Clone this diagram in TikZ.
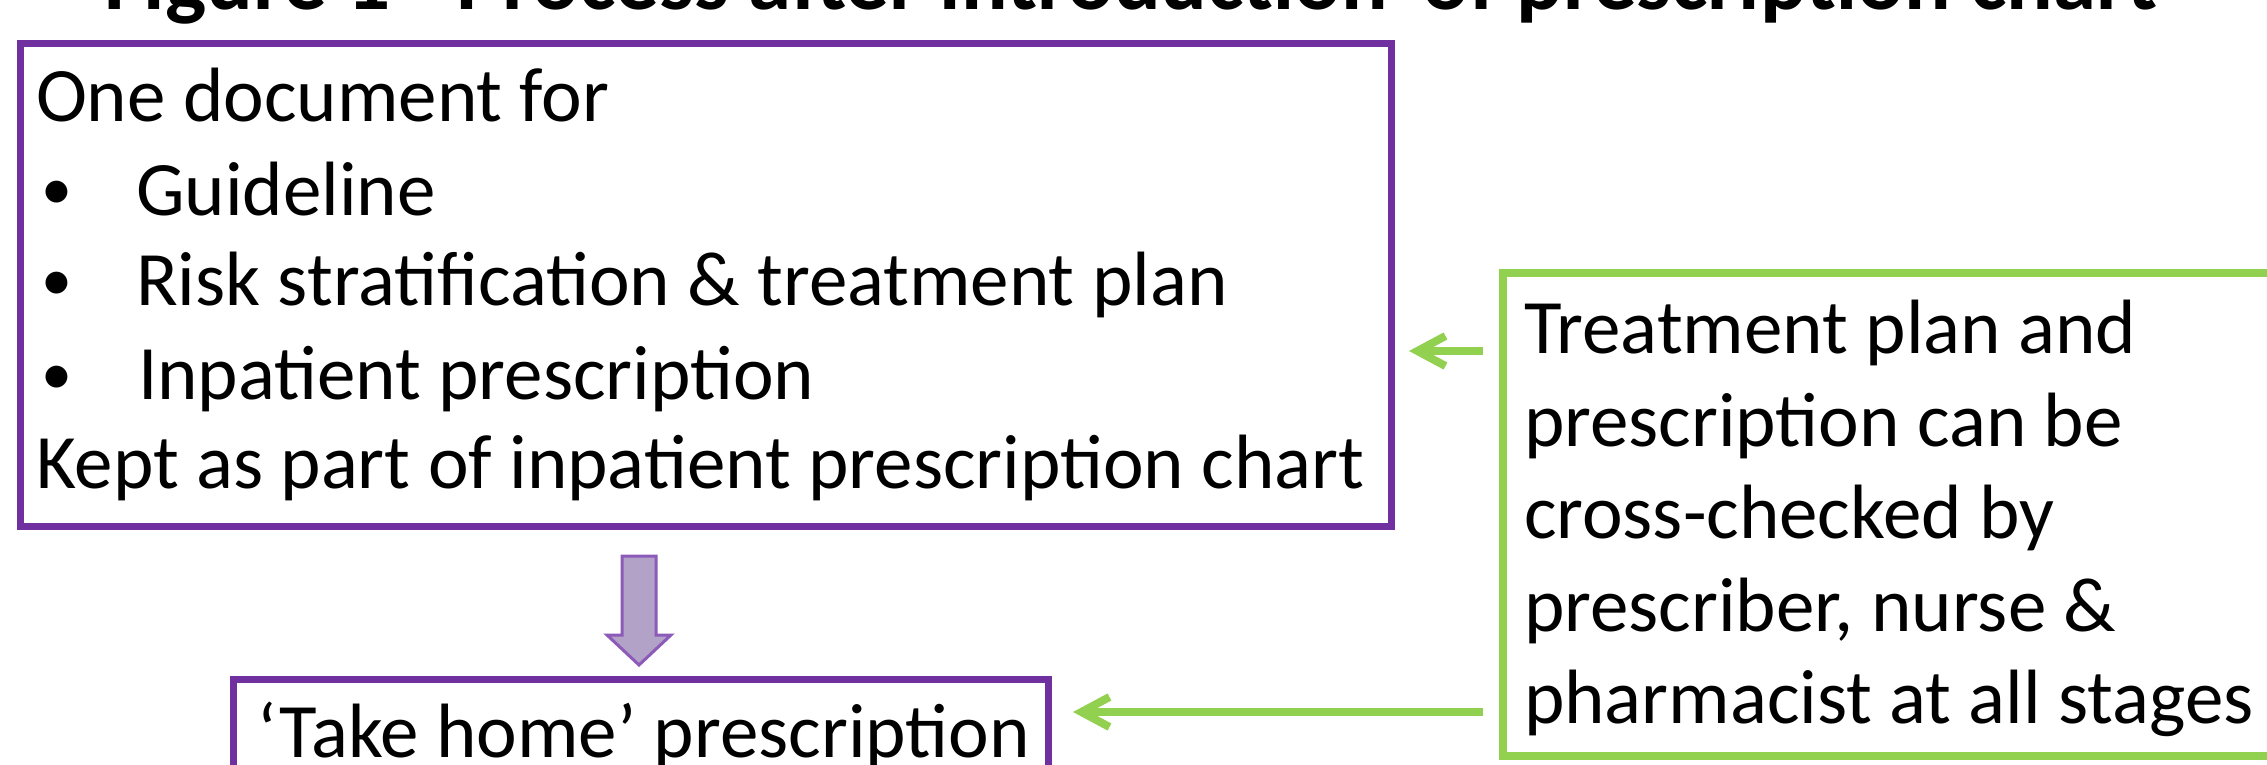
\documentclass[tikz,border=0pt]{standalone}
\usepackage{fontspec}
\setmainfont{Carlito}
\usetikzlibrary{arrows.meta,calc}
\definecolor{boxpurple}{HTML}{7030A0}
\definecolor{boxgreen}{HTML}{92D050}
\definecolor{arrowfill}{HTML}{B3A2C7}
\definecolor{arrowline}{HTML}{8C5AB8}
\begin{document}
\begin{tikzpicture}[x=0.5pt,y=-0.5pt,
  txt/.style={anchor=base west, inner sep=0pt, outer sep=0pt, font=\fontsize{38.5}{46}\selectfont},
  bul/.style={anchor=base west, inner sep=0pt, outer sep=0pt, font=\fontsize{31}{36}\selectfont},
  ttl/.style={anchor=base west, inner sep=0pt, outer sep=0pt, font=\fontsize{43.5}{50}\selectfont\bfseries},
  pbox/.style={draw=boxpurple, line width=3.5pt, rectangle, inner sep=0pt, outer sep=0pt},
  gbox/.style={draw=boxgreen, line width=4pt, rectangle, inner sep=0pt, outer sep=0pt},
  garrow/.style={draw=boxgreen, line width=4pt, -{Straight Barb[length=14pt,width=15pt]}},
  blockarrow/.style={draw=arrowline, fill=arrowfill, line width=1.5pt, line join=miter},
]
\useasboundingbox (0,0) rectangle (2267,765);
\clip (0,0) rectangle (2267,765);
% boxes
\node[pbox, minimum width=685.5pt, minimum height=241pt] (doc) at (705.5,285) {};
\node[pbox, minimum width=407.5pt, minimum height=80.5pt] (takehome) at (640.5,759.5) {};
\node[gbox, minimum width=408.5pt, minimum height=241.5pt] (check) at (1911.5,514.5) {};
% title
\node[ttl] (title) at (104,9.5) {Figure 1 - Process after introduction\, of prescription chart};
% texts of the first box
\node[txt] (l1) at (36,122) {One document for};
\node[bul] (b1) at (41,210) {•};
\node[txt] (l2) at (136,215) {Guideline};
\node[bul] (b2) at (41,300) {•};
\node[txt] (l3) at (136,305) {Risk stratification \& treatment plan};
\node[bul] (b3) at (41,394) {•};
\node[txt] (l4) at (138,399) {Inpatient prescription};
\node[txt] (l5) at (36,488) {Kept as part of inpatient prescription chart};
% take home text
\node[txt] (th) at (257,757) {‘Take home’ prescription};
% check text
\node[txt] (c1) at (1524,353) {Treatment plan and};
\node[txt] (c2) at (1524,446) {prescription can be};
\node[txt] (c3) at (1524,538) {cross-checked by};
\node[txt] (c4) at (1524,631) {prescriber, nurse \&};
\node[txt] (c5) at (1524,723) {pharmacist at all stages};
% green arrows
\draw[garrow, shorten <=10pt, shorten >=9pt] (check.west |- 0,351) -- (doc.east |- 0,351);
\draw[garrow, shorten <=10pt, shorten >=12.5pt] (check.west |- 0,712) -- (takehome.east |- 0,712);
% purple block arrow
\coordinate (dtop) at ($(takehome.north |- doc.south)+(-1.5,30)$);
\coordinate (dtip) at ($(takehome.north)+(-1.5,-14)$);
\draw[blockarrow] ($(dtop)+(-17,0)$) -- ($(dtop)+(17,0)$) -- ($(dtip)+(17,-30)$) -- ($(dtip)+(32,-30)$) -- (dtip) -- ($(dtip)+(-32,-30)$) -- ($(dtip)+(-17,-30)$) -- cycle;
\end{tikzpicture}
\end{document}
